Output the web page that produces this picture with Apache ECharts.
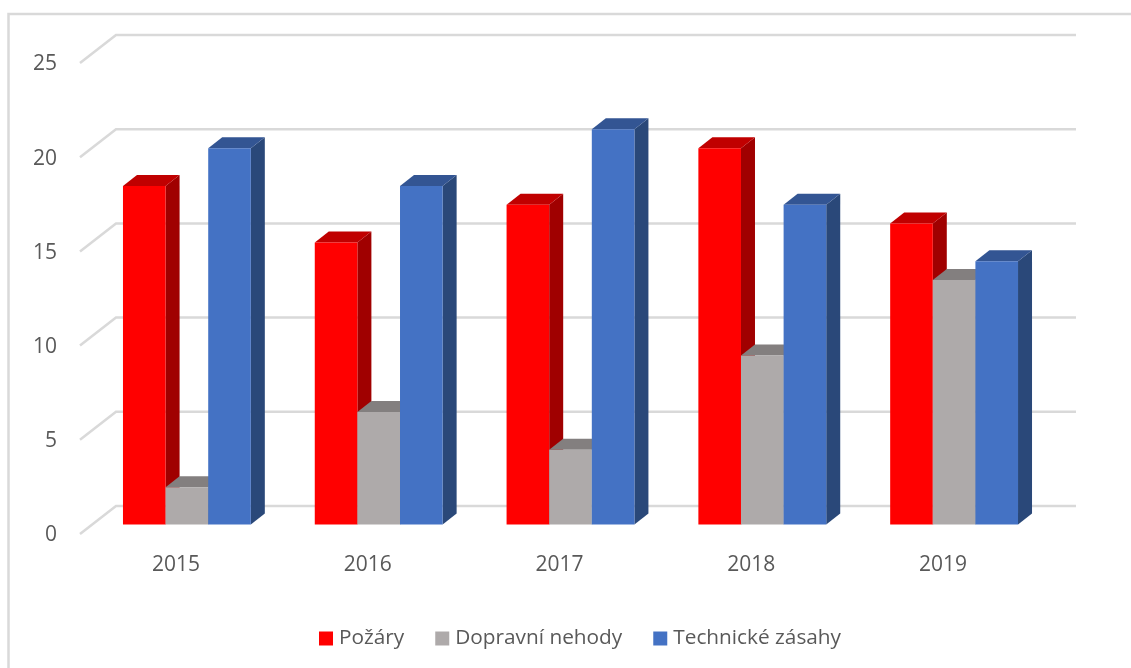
<!DOCTYPE html>
<html>
<head>
<meta charset="utf-8">
<style>
  html, body { margin: 0; padding: 0; background: #fff; }
  #chart { width: 1131px; height: 668px; }
</style>
<script src="https://cdn.jsdelivr.net/npm/echarts@6/dist/echarts.min.js"></script>
</head>
<body>
<div id="chart"></div>
<script>
const years = ['2015', '2016', '2017', '2018', '2019'];
const pozary = [18, 15, 17, 20, 16];
const nehody = [2, 6, 4, 9, 13];
const zasahy = [20, 18, 21, 17, 14];
const yTicks = [0, 5, 10, 15, 20, 25];

const fontName = '"Open Sans", sans-serif';
const textColor = '#595959';

// fake 3d, pixel offsets measured on the picture
const wallDepth = [36, -28];
const barShift = [11, -9];
const barDepth = [14, -11];
const barRatio = 0.2222;

function wallLines(params, api) {
  const y = api.coord([0, api.value(1)])[1];
  const cs = params.coordSys;
  return {
    type: 'polyline',
    shape: { points: [
      [cs.x, y],
      [cs.x + wallDepth[0], y + wallDepth[1]],
      [cs.x + cs.width + wallDepth[0] + 1, y + wallDepth[1]]
    ] },
    style: { stroke: '#d9d9d9', lineWidth: 2.5, fill: null }
  };
}

function makeBars(slot, front, top, side) {
  return function (params, api) {
    const band = api.size([1, 0])[0];
    const w = band * barRatio;
    const c = api.coord([api.value(0), api.value(1)]);
    const base = api.coord([api.value(0), 0]);
    const x0 = c[0] + barShift[0] + (slot - 1.5) * w;
    const x1 = x0 + w;
    const yt = c[1] + barShift[1];
    const yb = base[1] + barShift[1] - 0.5;
    const dx = barDepth[0], dy = barDepth[1];
    return {
      type: 'group',
      children: [
        { type: 'polygon', shape: { points: [[x1, yt], [x1 + dx, yt + dy], [x1 + dx, yb + dy], [x1, yb]] }, style: { fill: side } },
        { type: 'polygon', shape: { points: [[x0, yt], [x0 + dx, yt + dy], [x1 + dx, yt + dy], [x1, yt]] }, style: { fill: top } },
        { type: 'rect', shape: { x: x0, y: yt, width: w, height: yb - yt }, style: { fill: front } }
      ]
    };
  };
}

function barSeries(name, values, slot, front, top, side) {
  return {
    name: name,
    type: 'custom',
    renderItem: makeBars(slot, front, top, side),
    data: values.map((v, i) => [i, v]),
    encode: { x: 0, y: 1 },
    itemStyle: { color: front },
    z: 3 + slot
  };
}

const chart = echarts.init(document.getElementById('chart'), null, { renderer: 'canvas' });
chart.setOption({
  animation: false,
  backgroundColor: '#fff',
  graphic: [
    { type: 'polyline', shape: { points: [[8.5, 668], [8.5, 14], [1131, 14]] }, style: { stroke: '#d9d9d9', lineWidth: 2.5, fill: null }, silent: true }
  ],
  legend: {
    data: ['Požáry', 'Dopravní nehody', 'Technické zásahy'],
    left: 314,
    top: 623,
    icon: 'rect',
    itemWidth: 14,
    itemHeight: 14,
    itemGap: 31,
    textStyle: { fontFamily: fontName, fontSize: 20.8, color: textColor, padding: [0, 0, 0, 1] }
  },
  grid: { left: 80, right: 92, top: 63, bottom: 134 },
  xAxis: {
    type: 'category',
    data: years,
    axisLine: { show: false },
    axisTick: { show: false },
    axisLabel: { fontFamily: fontName, fontSize: 21, color: textColor, margin: 21 }
  },
  yAxis: {
    type: 'value',
    min: 0,
    max: 25,
    interval: 5,
    axisLine: { show: false },
    axisTick: { show: false },
    splitLine: { show: false },
    axisLabel: {
      margin: 23,
      formatter: '{v|{value}}',
      rich: { v: { fontFamily: fontName, fontSize: 21, color: textColor, padding: [3, 0, 0, 0] } }
    }
  },
  series: [
    {
      name: 'stena',
      type: 'custom',
      renderItem: wallLines,
      data: yTicks.map(v => [0, v]),
      encode: { x: 0, y: 1 },
      silent: true,
      z: 1
    },
    barSeries('Požáry', pozary, 0, '#ff0000', '#c00000', '#a00000'),
    barSeries('Dopravní nehody', nehody, 1, '#aeaaaa', '#837f7f', '#6f6c6c'),
    barSeries('Technické zásahy', zasahy, 2, '#4472c4', '#335593', '#2a4879')
  ]
});
</script>
</body>
</html>
